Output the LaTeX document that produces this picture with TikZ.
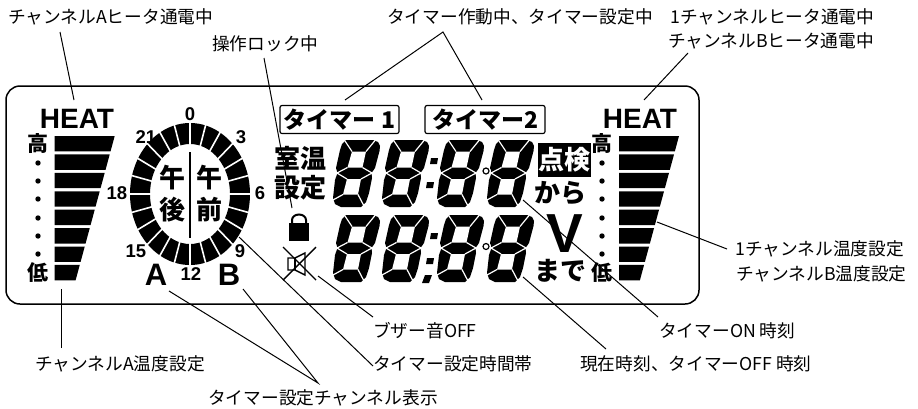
\documentclass[tikz,border=0pt]{standalone}
\usepackage{fontspec}
\setmainfont{Noto Sans CJK JP}
\newfontfamily\latinfont{Liberation Sans}
\tikzstyle{every node}=[inner sep=0pt]
\tikzstyle{callout}=[anchor=west,font=\fontsize{17.7}{20}\selectfont]
\tikzstyle{leader}=[line width=1pt]
\tikzstyle{lcdtext}=[font=\fontsize{26}{28}\selectfont\bfseries]
\tikzstyle{scalemark}=[font=\fontsize{21}{24}\selectfont\bfseries]
\tikzstyle{heatword}=[font=\fontsize{28}{28}\selectfont\latinfont\bfseries]
\tikzstyle{hourmark}=[font=\fontsize{18.5}{18}\selectfont\latinfont\bfseries]
\tikzstyle{channelmark}=[font=\fontsize{31}{30}\selectfont\latinfont\bfseries]
\tikzstyle{timerbox}=[draw,line width=1.2pt,rounded corners=2pt,minimum height=28pt,font=\fontsize{23}{24}\selectfont\bfseries]
\tikzstyle{segcut}=[white,line width=1.2pt]
\newcommand{\segdigit}[2]{
\begin{scope}[shift={(#1,#2)}]
\fill (13,0) -- (40,0) -- (45,2) -- (47,6) -- (46.5,11) -- (42,28) -- (38.5,33) -- (39,38) -- (36,53) -- (33,62) -- (28,67) -- (8,67) -- (2,64) -- (0,58) -- (2,40) -- (4.5,33) -- (3,28) -- (7,10) -- (9,4) -- cycle;
\fill[white] (19,11.5) -- (33,11.5) -- (29.5,27.5) -- (14.5,27.5) -- cycle;
\fill[white] (14,39) -- (28,39) -- (25,54.5) -- (10,54.5) -- cycle;
\draw[segcut] (19,11.5) -- (12,1);
\draw[segcut] (33,11.5) -- (42,0.5);
\draw[segcut] (14.5,27.5) -- (4,33);
\draw[segcut] (29.5,27.5) -- (39,33);
\draw[segcut] (14,39) -- (4,33);
\draw[segcut] (28,39) -- (39,33);
\draw[segcut] (10,54.5) -- (0,60);
\draw[segcut] (25,54.5) -- (31,66);
\end{scope}
}
\newcommand{\heatbars}[1]{
\foreach \i in {0,...,7}{
\pgfmathsetmacro{\top}{136+18.42*\i}
\pgfmathsetmacro{\bot}{\top+15.4}
\fill (#1,\top) -- ({#1+60-(\top-136)*0.271},\top) -- ({#1+60-(\bot-136)*0.271},\bot) -- (#1,\bot) -- cycle;
}
}
\begin{document}
\begin{tikzpicture}[x=1pt,y=-1pt]
\useasboundingbox (0,0) rectangle (918,408);

\draw[line width=1.5pt,rounded corners=14pt] (6,86) rectangle (699,304);

\node[heatword] (heatA) at (77,119) {HEAT};
\node[heatword] (heatB) at (640,119) {HEAT};
\heatbars{54.7}
\heatbars{619}
\node[scalemark] (highA) at (38,144) {高};
\node[scalemark] (lowA) at (38,273) {低};
\node[scalemark] (highB) at (602,144) {高};
\node[scalemark] (lowB) at (602,273) {低};
\foreach \y in {163,181,199,218,236,254}{
\fill (38,\y) circle (2.7);
\fill (602,\y) circle (2.7);
}

\fill[even odd rule] (190,194) ellipse [x radius=60,y radius=71] (190,194) ellipse [x radius=40,y radius=50];
\begin{scope}[shift={(190,194)}]
\foreach \a in {0,15,...,345}{
\draw[white,line width=1.6pt] (\a:38 and 48) -- (\a:62 and 73);
}
\end{scope}
\draw[line width=2.6pt] (190,152) -- (190,238);
\node[lcdtext] (amtop) at (209,178) {午};
\node[lcdtext] (ambot) at (209,210) {前};
\node[lcdtext] (pmtop) at (172,178) {午};
\node[lcdtext] (pmbot) at (172,210) {後};
\node[hourmark] (h0) at (190,114) {0};
\node[hourmark] (h3) at (241,137) {3};
\node[hourmark] (h6) at (260,193) {6};
\node[hourmark] (h9) at (240,251) {9};
\node[hourmark] (h12) at (191,274) {12};
\node[hourmark] (h15) at (136,251) {15};
\node[hourmark] (h18) at (117,193) {18};
\node[hourmark] (h21) at (146,137) {21};
\node[channelmark] (chanA) at (156,275) {A};
\node[channelmark] (chanB) at (229,275) {B};

\node[timerbox,minimum width=119pt] (timerA) at (339.5,119.5) {タイマー 1};
\node[timerbox,minimum width=120pt] (timerB) at (485,119.5) {タイマー2};
\node[lcdtext] (room) at (300,158) {室温};
\node[lcdtext] (setting) at (300,188) {設定};
\node[lcdtext,fill=black,text=white,minimum width=53pt,minimum height=34pt] (check) at (564.5,160) {点検};
\node[lcdtext] (from) at (560,193) {から};
\node[lcdtext] (until) at (560,271) {まで};
\node[font=\fontsize{55}{55}\selectfont\latinfont\bfseries] (volt) at (565,234) {V};

\segdigit{333}{140}
\segdigit{382}{140}
\segdigit{437}{140}
\segdigit{487}{140}
\segdigit{333}{215}
\segdigit{382}{215}
\segdigit{437}{215}
\segdigit{487}{215}
\fill (431,158) -- (438,158) -- (437,164) -- (430,164) -- cycle;
\fill (427,182) -- (434,182) -- (433,188) -- (426,188) -- cycle;
\fill[white] (486,171) circle (5);
\draw[line width=1.2pt] (486,171) circle (3);
\fill (431,233) -- (438,233) -- (437,239) -- (430,239) -- cycle;
\fill (427,258) -- (434,258) -- (433,264) -- (426,264) -- cycle;
\fill (425,275) -- (432,275) -- (429,283) -- (422,283) -- cycle;
\fill[white] (486,246.5) circle (5);
\draw[line width=1.2pt] (486,246.5) circle (3);

\fill (289,223) rectangle (309,241);
\draw[line width=2pt] (292,224) -- (292,220) arc (180:360:7 and 5.5) -- (306,224);
\draw[line width=1.4pt] (283,247) -- (316,280);
\draw[line width=1.4pt] (316,247) -- (283,280);
\draw[line width=1.4pt] (288,258) -- (295,258) -- (305,253) -- (305,275) -- (295,270) -- (288,270) -- cycle;
\draw[line width=1.4pt] (295,258) -- (295,270);

\node[callout] (heatAtext) at (8,17) {チャンネルAヒータ通電中};
\node[callout] (locktext) at (212,44) {操作ロック中};
\node[callout] (timertext) at (387,17) {タイマー作動中、タイマー設定中};
\node[callout] (heatBtextA) at (670,17) {1チャンネルヒータ通電中};
\node[callout] (heatBtextB) at (668,41) {チャンネルBヒータ通電中};
\node[callout] (tempBtextA) at (735,249) {1チャンネル温度設定};
\node[callout] (tempBtextB) at (736,274) {チャンネルB温度設定};
\node[callout] (tempAtext) at (35,364) {チャンネルA温度設定};
\node[callout] (channeltext) at (208,398) {タイマー設定チャンネル表示};
\node[callout] (buzzertext) at (373,331) {ブザー音OFF};
\node[callout] (bandtext) at (373,364) {タイマー設定時間帯};
\node[callout] (ontext) at (659,331) {タイマーON 時刻};
\node[callout] (offtext) at (580,364) {現在時刻、タイマーOFF 時刻};

\coordinate (heatAfrom) at (60,32);
\coordinate (heatAto) at (74,100);
\coordinate (lockfrom) at (264,58);
\coordinate (lockto) at (292,208);
\coordinate (timerapex) at (443,32);
\coordinate (timerAto) at (345,100);
\coordinate (timerBto) at (482,100);
\coordinate (heatBfrom) at (688,53);
\coordinate (heatBto) at (644,100);
\coordinate (tempBfrom) at (727,249);
\coordinate (tempBto) at (657,222);
\coordinate (onfrom) at (658,317);
\coordinate (onto) at (523,200);
\coordinate (offfrom) at (606,349);
\coordinate (offto) at (523,277);
\coordinate (buzzerfrom) at (373,317);
\coordinate (buzzerto) at (318,276);
\coordinate (bandfrom) at (373,366);
\coordinate (bandto) at (239,237);
\coordinate (channelapex) at (318,383);
\coordinate (chanAto) at (169,291);
\coordinate (chanBto) at (243,289);
\coordinate (tempAfrom) at (61,348);
\coordinate (tempAto) at (61,289);

\draw[leader] (heatAfrom) -- (heatAto);
\draw[leader] (lockfrom) -- (lockto);
\draw[leader] (timerAto) -- (timerapex) -- (timerBto);
\draw[leader] (heatBfrom) -- (heatBto);
\draw[leader] (tempBfrom) -- (tempBto);
\draw[leader] (onfrom) -- (onto);
\draw[leader] (offfrom) -- (offto);
\draw[leader] (buzzerfrom) -- (buzzerto);
\draw[leader] (bandfrom) -- (bandto);
\draw[leader] (chanAto) -- (channelapex) -- (chanBto);
\draw[leader] (tempAfrom) -- (tempAto);

\end{tikzpicture}
\end{document}
